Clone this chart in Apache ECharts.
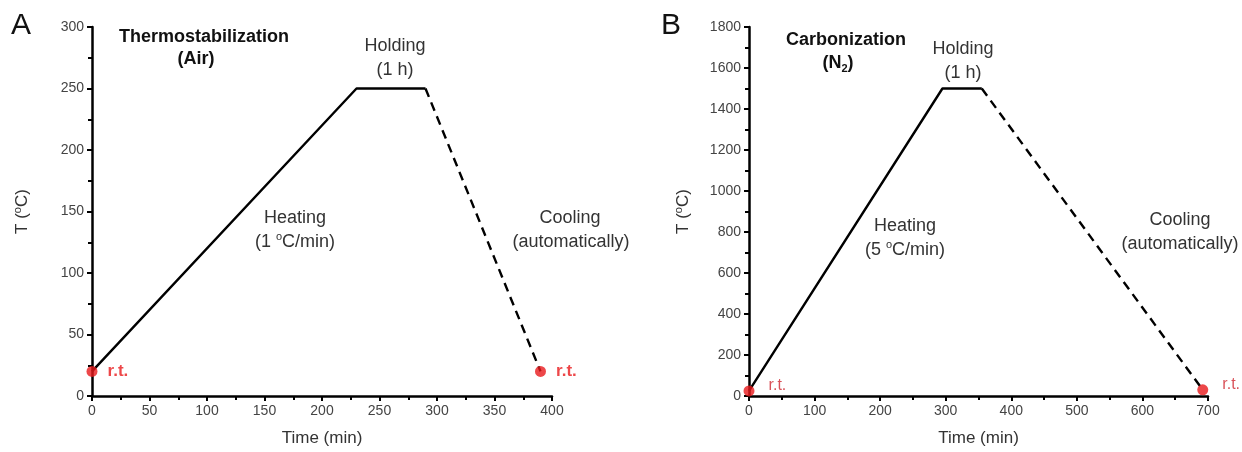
<!DOCTYPE html>
<html><head><meta charset="utf-8">
<script src="https://cdn.jsdelivr.net/npm/echarts@6/dist/echarts.min.js"></script>
<style>html,body{margin:0;padding:0;background:#fff}#c{width:1242px;height:452px}</style>
</head><body><div id="c"></div>
<script>
// Panel A: thermostabilization
const heatA = [[0, 20], [230, 250], [290, 250]];
const coolA = [[290, 250], [390, 20]];
const rtA = [[0, 20], [390, 20]];
// Panel B: carbonization
const heatB = [[0, 25], [295, 1500], [355, 1500]];
const coolB = [[355, 1500], [692, 30]];
const rtB = [[0, 25], [692, 30]];
// axis ranges
const xA = {min: 0, max: 400, interval: 50};
const yA = {min: 0, max: 300, interval: 50};
const xB = {min: 0, max: 700, interval: 100};
const yB = {min: 0, max: 1800, interval: 200};

const FONT = 'Liberation Sans, Arial, sans-serif';
const axisCommon = {
  axisLine: {show: true, onZero: false, lineStyle: {color: '#000', width: 2.5}},
  axisTick: {show: true, length: 5, lineStyle: {color: '#000', width: 2}},
  minorTick: {show: true, splitNumber: 2, length: 4, lineStyle: {color: '#000', width: 2}},
  splitLine: {show: false},
  axisLabel: {color: '#444', fontSize: 14, fontFamily: FONT, margin: 8, formatter: v => String(v)}
};
const supRich = {
  a: {color: '#333', fontSize: 17, fontFamily: FONT, lineHeight: 20},
  s: {color: '#333', fontSize: 11, fontFamily: FONT, lineHeight: 11, verticalAlign: 'top'}
};
function xAx(r, gi) {
  return Object.assign({type: 'value', gridIndex: gi, min: r.min, max: r.max, interval: r.interval,
    name: 'Time (min)', nameLocation: 'middle', nameGap: 34,
    nameTextStyle: {color: '#333', fontSize: 17, fontFamily: FONT}}, axisCommon);
}
function yAx(r, gi, gap) {
  return Object.assign({type: 'value', gridIndex: gi, min: r.min, max: r.max, interval: r.interval,
    name: '{a|T (}{s|o}{a|C)}', nameLocation: 'middle', nameGap: gap, nameRotate: 90,
    nameTextStyle: {rich: supRich}}, axisCommon);
}
const RED = '#e8191c';
function lineS(data, gi, dashed) {
  return {type: 'line', xAxisIndex: gi, yAxisIndex: gi, data: data, symbol: 'none', silent: true,
    lineStyle: {color: '#000', width: 2.4, type: dashed ? [9, 6] : 'solid'}, z: 2};
}
function dotS(data, gi, bold, offs, dist) {
  return {type: 'scatter', xAxisIndex: gi, yAxisIndex: gi, data: data, symbolSize: 11,
    itemStyle: {color: RED}, z: 5,
    label: {show: true, position: 'right', distance: dist, formatter: 'r.t.',
      color: bold ? RED : '#d0262e',
      fontSize: bold ? 17 : 16, fontWeight: bold ? 'bold' : 'normal', fontFamily: FONT,
      offset: offs}};
}
function txt(x, y, t, opts) {
  return {type: 'text', x: x, y: y, style: Object.assign({text: t, fill: '#333',
    font: '18px ' + FONT, textAlign: 'center', textVerticalAlign: 'middle'}, opts || {})};
}
const richAnn = {
  a: {fill: '#333', fontSize: 18, fontFamily: FONT, lineHeight: 22},
  s: {fill: '#333', fontSize: 11, fontFamily: FONT, lineHeight: 12, verticalAlign: 'top'},
  b: {fill: '#111', fontSize: 18, fontWeight: 'bold', fontFamily: FONT, lineHeight: 22},
  sub: {fill: '#111', fontSize: 11, fontWeight: 'bold', fontFamily: FONT, lineHeight: 12, verticalAlign: 'bottom'}
};
function rtxt(x, y, t) {
  return {type: 'text', x: x, y: y, style: {text: t, rich: richAnn, fill: '#333', align: 'center', verticalAlign: 'middle'}};
}
const BOLD = {font: 'bold 18px ' + FONT, fill: '#111'};

const chart = echarts.init(document.getElementById('c'), null, {renderer: 'canvas'});
chart.setOption({
  animation: false,
  grid: [
    {left: 92, top: 27, width: 460, height: 369},
    {left: 749, top: 27, width: 459, height: 369}
  ],
  xAxis: [xAx(xA, 0), xAx(xB, 1)],
  yAxis: [yAx(yA, 0, 60), yAx(yB, 1, 56)],
  series: [
    lineS(heatA, 0, false), lineS(coolA, 0, true), dotS(rtA, 0, true, [0, 0], 10),
    lineS(heatB, 1, false), lineS(coolB, 1, true), dotS(rtB, 1, false, [0, -5], 14)
  ],
  graphic: [
    txt(21, 26, 'A', {font: '30px ' + FONT, fill: '#111'}),
    txt(671, 26, 'B', {font: '30px ' + FONT, fill: '#111'}),
    txt(204, 37, 'Thermostabilization', BOLD),
    txt(196, 59, '(Air)', BOLD),
    txt(395, 46, 'Holding'), txt(395, 70, '(1 h)'),
    txt(295, 218, 'Heating'), rtxt(295, 242, '{a|(1 }{s|o}{a|C/min)}'),
    txt(570, 218, 'Cooling'), txt(571, 242, '(automatically)'),
    txt(846, 40, 'Carbonization', BOLD),
    rtxt(838, 63, '{b|(N}{sub|2}{b|)}'),
    txt(963, 49, 'Holding'), txt(963, 73, '(1 h)'),
    txt(905, 226, 'Heating'), rtxt(905, 250, '{a|(5 }{s|o}{a|C/min)}'),
    txt(1180, 220, 'Cooling'), txt(1180, 244, '(automatically)')
  ]
});
</script></body></html>
